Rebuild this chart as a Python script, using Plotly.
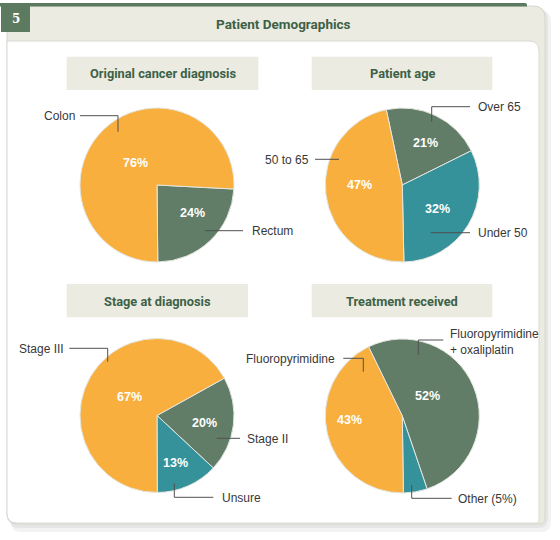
import plotly.graph_objects as go

W, H = 560, 540

# ---------------- data ----------------
diag_labels = ["Rectum", "Colon"]
diag_values = [24, 76]

age_labels = ["Over 65", "Under 50", "50 to 65"]
age_values = [21, 32, 47]

stage_labels = ["Stage II", "Unsure", "Stage III"]
stage_values = [20, 13, 67]

treat_labels = ["Fluoropyrimidine<br>+ oxaliplatin", "Other (5%)", "Fluoropyrimidine"]
treat_values = [52, 5, 43]

chart_titles = ["Original cancer diagnosis", "Patient age", "Stage at diagnosis", "Treatment received"]
main_title = "Patient Demographics"
figure_number = "5"

# ---------------- styling ----------------
YEL = "#F9AF3E"
GRN = "#627D67"
TEAL = "#35919A"
DARKGRN = "#5B7A60"
BEIGE = "#EBEBE2"
HEAD_TXT = "#3D6146"
LBL_TXT = "#383838"
LINE_C = "#505050"
HEADF = "Roboto, Liberation Sans, sans-serif"
SANS = "Liberation Sans, Arial, sans-serif"


def rrect(x0, y0, x1, y1, tl=0, tr=0, br=0, bl=0):
    p = f"M {x0+tl},{y0} L {x1-tr},{y0} "
    p += f"Q {x1},{y0} {x1},{y0+tr} " if tr else ""
    p += f"L {x1},{y1-br} "
    p += f"Q {x1},{y1} {x1-br},{y1} " if br else ""
    p += f"L {x0+bl},{y1} "
    p += f"Q {x0},{y1} {x0},{y1-bl} " if bl else ""
    p += f"L {x0},{y0+tl} "
    p += f"Q {x0},{y0} {x0+tl},{y0} " if tl else ""
    return p + "Z"


def dom(cx, cy, r):
    return dict(x=[(cx - r) / W, (cx + r) / W], y=[1 - (cy + r) / H, 1 - (cy - r) / H])


fig = go.Figure()

# invisible pixel axes covering the whole figure
fig.add_trace(go.Scatter(x=[0, W], y=[0, H], mode="markers", marker=dict(opacity=0),
                         hoverinfo="skip", showlegend=False))

R = 77
pies = [
    (diag_labels, diag_values, [GRN, YEL], 93, (157, 185)),
    (age_labels, age_values, [GRN, TEAL, YEL], -12, (402.3, 185)),
    (stage_labels, stage_values, [GRN, TEAL, YEL], 61, (157, 415.5)),
    (treat_labels, treat_values, [GRN, TEAL, YEL], -26, (402.3, 416)),
]
for labels, values, colors, rot, (cx, cy) in pies:
    fig.add_trace(go.Pie(
        labels=labels, values=values, sort=False, direction="clockwise", rotation=rot,
        marker=dict(colors=colors, line=dict(color="#E4E6E0", width=1)),
        textinfo="none", hoverinfo="label+percent", showlegend=False,
        domain=dom(cx, cy, R),
    ))

shapes = []
# card shadow
shapes.append(dict(type="path", path=rrect(11, 10, 551, 532, tr=12, br=10, bl=10),
                   fillcolor="rgba(0,0,0,0.05)", line=dict(width=0), layer="below"))
shapes.append(dict(type="path", path=rrect(9, 8, 548, 528, tr=12, br=10, bl=10),
                   fillcolor="rgba(0,0,0,0.05)", line=dict(width=0), layer="below"))
# beige card
shapes.append(dict(type="path", path=rrect(7, 6, 545, 524, tr=12, br=6, bl=10),
                   fillcolor=BEIGE, line=dict(color="#D6D6CE", width=1), layer="below"))
# white inner panel
shapes.append(dict(type="path", path=rrect(7, 41, 539, 523, tr=10, br=2, bl=10),
                   fillcolor="white", line=dict(color="#DADAD4", width=1), layer="below"))
# dark top bar
shapes.append(dict(type="path", path=rrect(0, 3, 527, 6.5, tr=2),
                   fillcolor=DARKGRN, line=dict(width=0), layer="below"))
# number box
shapes.append(dict(type="rect", x0=1, y0=5, x1=30, y1=32, fillcolor=DARKGRN,
                   line=dict(width=0), layer="below"))
# chart title boxes
for (x0, y0, x1, y1) in [(66.7, 56.7, 258.3, 90), (311.7, 56.7, 492.3, 90),
                         (66.7, 284, 248, 317.3), (311.7, 284, 492.3, 317.3)]:
    shapes.append(dict(type="rect", x0=x0, y0=y0, x1=x1, y1=y1, fillcolor=BEIGE,
                       line=dict(width=0), layer="below"))

# leader lines
leaders = [
    [(80, 115.7), (118, 115.7), (118, 131.7)],            # Colon
    [(205, 230.7), (243, 230.7)],                         # Rectum
    [(431.7, 121.7), (431.7, 106.7), (470, 106.7)],       # Over 65
    [(315, 159.3), (339, 159.3)],                         # 50 to 65
    [(430.7, 232.7), (470, 232.7)],                       # Under 50
    [(69.3, 348.3), (107.7, 348.3), (107.7, 361.7)],      # Stage III
    [(216.7, 438.3), (240, 438.3)],                       # Stage II
    [(174.3, 483.3), (174.3, 497.3), (213.3, 497.3)],     # Unsure
    [(343.3, 358.3), (363.3, 358.3), (363.3, 371.7)],     # Fluoropyrimidine
    [(418.3, 355), (418.3, 340), (443.3, 340)],           # F + oxaliplatin
    [(411.7, 485), (411.7, 498.3), (451.7, 498.3)],       # Other
]
for pts in leaders:
    path = "M " + " L ".join(f"{x},{y}" for x, y in pts)
    shapes.append(dict(type="path", path=path, line=dict(color=LINE_C, width=1), layer="above"))

ann = []
ann.append(dict(x=283, y=24, text=main_title, showarrow=False,
                font=dict(family=HEADF, size=13.5, color=HEAD_TXT, weight="bold")))
ann.append(dict(x=15.5, y=19, text=figure_number, showarrow=False,
                font=dict(family="DejaVu Serif, serif", size=12, color="white", weight="bold")))
for (x, y), t in zip([(162.5, 73.5), (402, 73.5), (157.3, 301), (402, 301)], chart_titles):
    ann.append(dict(x=x, y=y, text=t, showarrow=False,
                    font=dict(family=HEADF, size=12.8, color=HEAD_TXT, weight="bold")))

# percentage labels (text from values)
pct_pos = [
    (diag_values, [(192.3, 213.3), (135.5, 162.7)]),
    (age_values, [(425.7, 142.7), (437, 209), (359.3, 185)]),
    (stage_values, [(204, 422.7), (175.7, 463.3), (129, 396.7)]),
    (treat_values, [(427.3, 396), None, (349.3, 420)]),
]
for vals, poss in pct_pos:
    for v, p in zip(vals, poss):
        if p is None:
            continue
        ann.append(dict(x=p[0], y=p[1], text=f"{v}%", showarrow=False,
                        font=dict(family=SANS, size=12.5, color="white", weight="bold")))

# category labels
lab_pos = [
    (diag_labels, [(250, 231, "left"), (76.5, 116.2, "right")]),
    (age_labels, [(476, 107, "left"), (476, 233, "left"), (311, 159.5, "right")]),
    (stage_labels, [(245, 438.5, "left"), (220, 497.5, "left"), (65.5, 348.5, "right")]),
    (treat_labels, [(447.5, 341.5, "left"), (456, 498.5, "left"), (336.5, 358.5, "right")]),
]
for labs, poss in lab_pos:
    for t, (x, y, anc) in zip(labs, poss):
        ann.append(dict(x=x, y=y, text=t, showarrow=False, xanchor=anc, align="left",
                        font=dict(family=SANS, size=12, color=LBL_TXT)))

for a in ann:
    a.setdefault("xref", "x")
    a.setdefault("yref", "y")
    a["yanchor"] = "middle"
for s in shapes:
    s["xref"] = "x"
    s["yref"] = "y"

fig.update_layout(
    width=W, height=H, margin=dict(l=0, r=0, t=0, b=0),
    paper_bgcolor="white", plot_bgcolor="rgba(0,0,0,0)",
    xaxis=dict(range=[0, W], visible=False, fixedrange=True),
    yaxis=dict(range=[H, 0], visible=False, fixedrange=True),
    shapes=shapes, annotations=ann, showlegend=False,
)

fig.write_html("out.html", config={"displayModeBar": False},
               post_script="document.body.style.margin='0';document.body.style.overflow='hidden';")
